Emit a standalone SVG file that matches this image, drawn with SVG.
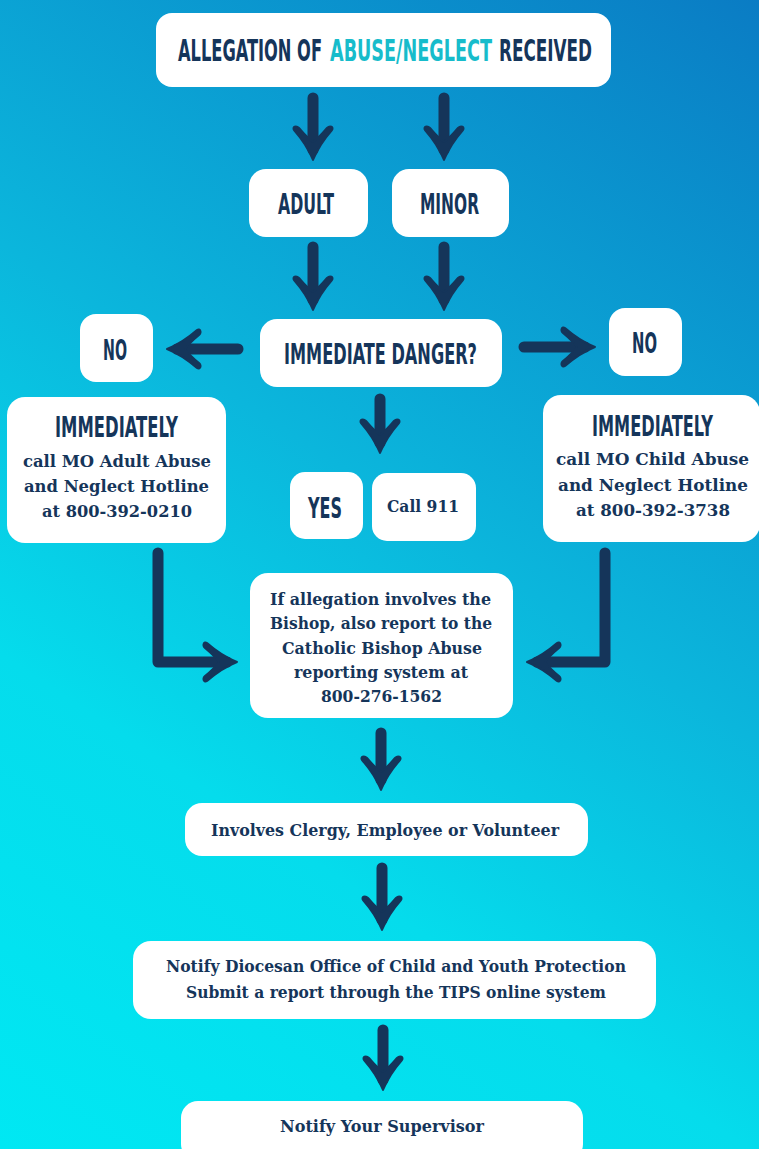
<svg xmlns="http://www.w3.org/2000/svg" xmlns:xlink="http://www.w3.org/1999/xlink" width="759" height="1149" viewBox="0 0 759 1149">
<defs>
<linearGradient id="bg" x1="0" y1="1149" x2="759" y2="0" gradientUnits="userSpaceOnUse">
<stop offset="0" stop-color="#00e8f3"/>
<stop offset="0.3" stop-color="#05dcec"/>
<stop offset="0.55" stop-color="#0bb6dc"/>
<stop offset="1" stop-color="#0a7cc4"/>
</linearGradient>
<path id="head" d="M0,0 C-4,-10 -12,-22 -19,-30 C-21,-33 -17,-35 -14,-32 C-9,-26 -4,-21 0,-18 C4,-21 9,-26 14,-32 C17,-35 21,-33 19,-30 C12,-22 4,-10 0,0 Z"/>
<style>
.box{fill:#ffffff;}
.sh{stroke:#15355a;stroke-width:11;stroke-linecap:round;stroke-linejoin:round;fill:none;}
.hd{fill:#15355a;stroke:#15355a;stroke-width:2;stroke-linejoin:round;}
.cap{font-family:"Liberation Sans Narrow","DejaVu Sans Condensed","Liberation Sans",sans-serif;font-weight:700;fill:#15355a;}
.ser{font-family:"DejaVu Serif","Liberation Serif",serif;font-weight:700;fill:#15355a;font-size:17px;}
.teal{fill:#17bccb;}
</style>
</defs>
<rect x="0" y="0" width="759" height="1149" fill="url(#bg)"/>

<g id="connectors">
<line class="sh" x1="313" y1="98" x2="313" y2="150"/><use href="#head" class="hd" transform="translate(313,160)"/>
<line class="sh" x1="444" y1="98" x2="444" y2="150"/><use href="#head" class="hd" transform="translate(444,160)"/>
<line class="sh" x1="313" y1="247" x2="313" y2="300"/><use href="#head" class="hd" transform="translate(313,310)"/>
<line class="sh" x1="444" y1="247" x2="444" y2="300"/><use href="#head" class="hd" transform="translate(444,310)"/>
<line class="sh" x1="238" y1="349" x2="177" y2="349"/><use href="#head" class="hd" transform="translate(167,349) rotate(90)"/>
<line class="sh" x1="524" y1="347" x2="585" y2="347"/><use href="#head" class="hd" transform="translate(595,347) rotate(-90)"/>
<line class="sh" x1="380" y1="399" x2="380" y2="443"/><use href="#head" class="hd" transform="translate(380,453)"/>
<polyline class="sh" points="158,553 158,662 227,662"/><use href="#head" class="hd" transform="translate(237,662) rotate(-90)"/>
<polyline class="sh" points="605,553 605,662 537,662"/><use href="#head" class="hd" transform="translate(527,662) rotate(90)"/>
<line class="sh" x1="381" y1="733" x2="381" y2="780"/><use href="#head" class="hd" transform="translate(381,790)"/>
<line class="sh" x1="382" y1="868" x2="382" y2="920"/><use href="#head" class="hd" transform="translate(382,930)"/>
<line class="sh" x1="383" y1="1030" x2="383" y2="1080"/><use href="#head" class="hd" transform="translate(383,1090)"/>
</g>

<g id="n-allegation">
<rect class="box" x="156" y="13" width="455" height="74" rx="16"/>
<text class="cap" transform="translate(178,61) scale(0.62,1)" x="0" y="0" font-size="30" textLength="232.3" lengthAdjust="spacingAndGlyphs">ALLEGATION OF</text>
<text class="cap teal" transform="translate(330,61) scale(0.62,1)" x="0" y="0" font-size="30" textLength="261.3" lengthAdjust="spacingAndGlyphs">ABUSE/NEGLECT</text>
<text class="cap" transform="translate(499,61) scale(0.62,1)" x="0" y="0" font-size="30" textLength="150" lengthAdjust="spacingAndGlyphs">RECEIVED</text>
</g>
<g id="n-adult">
<rect class="box" x="249" y="169" width="119" height="68" rx="17"/>
<text class="cap" transform="translate(278,214) scale(0.62,1)" x="0" y="0" font-size="28" textLength="90.3" lengthAdjust="spacingAndGlyphs">ADULT</text>
</g>
<g id="n-minor">
<rect class="box" x="392" y="169" width="117" height="68" rx="17"/>
<text class="cap" transform="translate(420,214) scale(0.62,1)" x="0" y="0" font-size="28" textLength="95.2" lengthAdjust="spacingAndGlyphs">MINOR</text>
</g>
<g id="n-danger">
<rect class="box" x="260" y="319" width="242" height="68" rx="17"/>
<text class="cap" transform="translate(284,364) scale(0.62,1)" x="0" y="0" font-size="29" textLength="311.3" lengthAdjust="spacingAndGlyphs">IMMEDIATE DANGER?</text>
</g>
<g id="n-no-left">
<rect class="box" x="80" y="314" width="73" height="68" rx="16"/>
<text class="cap" transform="translate(103,360) scale(0.62,1)" x="0" y="0" font-size="29" textLength="38.7" lengthAdjust="spacingAndGlyphs">NO</text>
</g>
<g id="n-no-right">
<rect class="box" x="609" y="308" width="73" height="68" rx="16"/>
<text class="cap" transform="translate(632,353) scale(0.62,1)" x="0" y="0" font-size="29" textLength="40.3" lengthAdjust="spacingAndGlyphs">NO</text>
</g>
<g id="n-adult-hotline">
<rect class="box" x="7" y="397" width="219" height="146" rx="18"/>
<text class="cap" transform="translate(55,437) scale(0.62,1)" x="0" y="0" font-size="28" textLength="198.4" lengthAdjust="spacingAndGlyphs">IMMEDIATELY</text>
<text class="ser" x="23" y="467" textLength="188" lengthAdjust="spacingAndGlyphs">call MO Adult Abuse</text>
<text class="ser" x="24" y="492" textLength="185" lengthAdjust="spacingAndGlyphs">and Neglect Hotline</text>
<text class="ser" x="42" y="517" textLength="150" lengthAdjust="spacingAndGlyphs">at 800-392-0210</text>
</g>
<g id="n-child-hotline">
<rect class="box" x="543" y="395" width="217" height="147" rx="18"/>
<text class="cap" transform="translate(592,436) scale(0.62,1)" x="0" y="0" font-size="28" textLength="195.2" lengthAdjust="spacingAndGlyphs">IMMEDIATELY</text>
<text class="ser" x="556" y="465" textLength="193" lengthAdjust="spacingAndGlyphs">call MO Child Abuse</text>
<text class="ser" x="558" y="491" textLength="190" lengthAdjust="spacingAndGlyphs">and Neglect Hotline</text>
<text class="ser" x="576" y="516" textLength="154" lengthAdjust="spacingAndGlyphs">at 800-392-3738</text>
</g>
<g id="n-yes">
<rect class="box" x="290" y="472" width="73" height="67" rx="15"/>
<text class="cap" transform="translate(308,518) scale(0.62,1)" x="0" y="0" font-size="28" textLength="54.8" lengthAdjust="spacingAndGlyphs">YES</text>
</g>
<g id="n-call911">
<rect class="box" x="372" y="473" width="104" height="68" rx="15"/>
<text class="ser" x="387" y="512" textLength="72" lengthAdjust="spacingAndGlyphs">Call 911</text>
</g>
<g id="n-bishop">
<rect class="box" x="250" y="573" width="263" height="145" rx="18"/>
<text class="ser" x="270" y="605" textLength="221" lengthAdjust="spacingAndGlyphs">If allegation involves the</text>
<text class="ser" x="270" y="629" textLength="222" lengthAdjust="spacingAndGlyphs">Bishop, also report to the</text>
<text class="ser" x="282" y="654" textLength="200" lengthAdjust="spacingAndGlyphs">Catholic Bishop Abuse</text>
<text class="ser" x="294" y="678" textLength="174" lengthAdjust="spacingAndGlyphs">reporting system at</text>
<text class="ser" x="321" y="702" textLength="121" lengthAdjust="spacingAndGlyphs">800-276-1562</text>
</g>
<g id="n-involves">
<rect class="box" x="185" y="803" width="403" height="53" rx="17"/>
<text class="ser" x="211" y="836" textLength="348" lengthAdjust="spacingAndGlyphs">Involves Clergy, Employee or Volunteer</text>
</g>
<g id="n-notify-office">
<rect class="box" x="133" y="941" width="523" height="78" rx="18"/>
<text class="ser" x="166" y="972" textLength="460" lengthAdjust="spacingAndGlyphs">Notify Diocesan Office of Child and Youth Protection</text>
<text class="ser" x="186" y="998" textLength="420" lengthAdjust="spacingAndGlyphs">Submit a report through the TIPS online system</text>
</g>
<g id="n-supervisor">
<rect class="box" x="181" y="1101" width="402" height="60" rx="17"/>
<text class="ser" x="280" y="1132" textLength="204" lengthAdjust="spacingAndGlyphs">Notify Your Supervisor</text>
</g>
</svg>
